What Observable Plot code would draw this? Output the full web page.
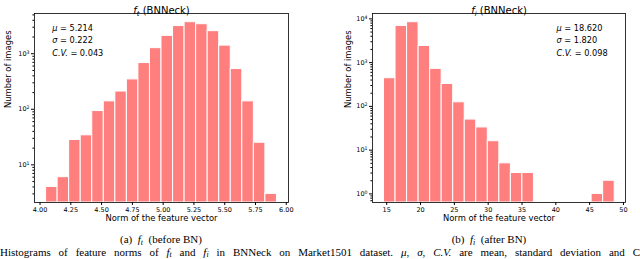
<!DOCTYPE html>
<html><head><meta charset="utf-8">
<script src="https://cdn.jsdelivr.net/npm/d3@7"></script>
<script src="https://cdn.jsdelivr.net/npm/@observablehq/plot@0.6"></script>
<style>
html,body{margin:0;padding:0;background:#fff;}
body{width:640px;height:259px;overflow:hidden;position:relative;}
.panel{position:absolute;top:0;}
.cap{position:absolute;font-family:"Liberation Serif",serif;font-size:11px;line-height:12px;text-align:center;width:320px;white-space:nowrap;color:#000;}
.cap i{font-style:italic;}
.cap sub{font-size:0.72em;vertical-align:-0.25em;line-height:0;}
.note{position:absolute;left:0;top:246px;width:640px;font-family:"Liberation Serif",serif;font-size:11px;line-height:12.5px;white-space:nowrap;text-align:justify;text-align-last:justify;color:#000;}
.note sub{font-size:0.72em;vertical-align:-0.15em;line-height:0;}
</style></head><body>
<div id="a" class="panel" style="left:0"></div>
<div id="b" class="panel" style="left:320px"></div>
<div class="cap" style="left:1px;top:233px">(a)&nbsp; <i>f<sub>t</sub></i>&nbsp; (before BN)</div>
<div class="cap" style="left:329px;top:233px">(b)&nbsp; <i>f<sub>i</sub></i>&nbsp; (after BN)</div>
<div class="note">Histograms of feature norms of <i>f<sub>t</sub></i> and <i>f<sub>i</sub></i> in BNNeck on Market1501 dataset. <i>μ</i>, <i>σ</i>, <i>C.V.</i> are mean, standard deviation and C</div>
<script>
// ---- data ----
const barColor = "#ff7f7f";

const leftTitle = "f_t (BNNeck)";
const leftCounts = [4, 6, 28, 34, 93, 139, 209, 345, 680, 1260, 2100, 3150, 3700, 3400, 2550, 1400, 530, 139, 25, 3];
const leftBinRange = [4.049, 5.924];
const leftXDomain = [3.955, 6.018];
const leftYDomain = [2.1, 5300];
const leftXTicks = [4.00, 4.25, 4.50, 4.75, 5.00, 5.25, 5.50, 5.75, 6.00];
const leftYTicks = [10, 100, 1000];
const leftStats = ["μ = 5.214", "σ = 0.222", "C.V. = 0.043"];

const rightTitle = "f_i (BNNeck)";
const rightCounts = [440, 6900, 8400, 2400, 720, 325, 124, 50, 33, 16, 5, 3, 3, 0, 0, 0, 0, 0, 1, 2];
const rightBinRange = [14.6, 48.7];
const rightXDomain = [12.9, 50.3];
const rightYDomain = [0.636, 13260];
const rightXTicks = [15, 20, 25, 30, 35, 40, 45, 50];
const rightYTicks = [1, 10, 100, 1000, 10000];
const rightStats = ["μ = 18.620", "σ = 1.820", "C.V. = 0.098"];

const xLabel = "Norm of the feature vector";
const yLabel = "Number of images";

function panel(o) {
  const n = o.counts.length, w = (o.binRange[1] - o.binRange[0]) / n;
  const bins = o.counts.map((c, i) => ({x1: o.binRange[0] + i * w, x2: o.binRange[0] + (i + 1) * w, c}))
    .filter(d => d.c > 0);
  const minor = d3.scaleLog().domain(o.yDomain).ticks()
    .filter(t => !o.yTicks.some(m => Math.abs(m - t) / m < 1e-9));
  const svg = Plot.plot({
    width: 320, height: 226,
    marginLeft: o.ml, marginRight: o.mr, marginTop: 13, marginBottom: 24,
    style: {fontFamily: "DejaVu Sans", fontSize: "6.5px", background: "white", color: "black", overflow: "visible"},
    x: {domain: o.xDomain},
    y: {type: "log", domain: o.yDomain},
    marks: [
      Plot.rectY(bins, {x1: "x1", x2: "x2", y1: o.yDomain[0], y2: "c", fill: barColor, stroke: "white", strokeWidth: 1, clip: true}),
      Plot.frame({stroke: "black", strokeWidth: 0.8}),
      Plot.axisX({ticks: o.xTicks, tickFormat: o.xFormat, tickSize: 3, tickPadding: 1.5, fontSize: 6.5, label: null}),
      Plot.axisY({ticks: o.yTicks, tickFormat: d => "10^" + Math.round(Math.log10(d)), tickSize: 3, tickPadding: 2, fontSize: 6.5, label: null}),
      Plot.axisY({ticks: minor, tickFormat: () => "", tickSize: 1.6, label: null}),
      Plot.text([o.title], {text: d => d, frameAnchor: "top", dy: -6.5, fontSize: 10}),
      Plot.text([xLabel], {text: d => d, frameAnchor: "bottom", dy: 18, fontSize: 8.4}),
      Plot.text([yLabel], {text: d => d, frameAnchor: "left", dx: o.yLabelDx, rotate: -90, fontSize: 8.4}),
      ...o.stats.map((s, i) => Plot.text([s], {text: d => d, frameAnchor: "top-left", dx: o.statsDx, dy: 11.3 + i * 12.5, textAnchor: "start", fontSize: 8.2}))
    ]
  });
  d3.select(svg).selectAll("text").each(function () {
    const t = this.textContent;
    let m;
    const sel = d3.select(this);
    if ((m = t.match(/^10\^(-?\d+)$/))) {
      this.textContent = "10";
      sel.append("tspan").attr("dy", "-0.45em").attr("font-size", "0.72em").text(m[1]);
    } else if ((m = t.match(/^(\w)_(\w)(.*)$/))) {
      this.textContent = "";
      sel.append("tspan").attr("font-style", "italic").text(m[1]);
      sel.append("tspan").attr("font-style", "italic").attr("font-size", "0.7em").attr("dy", "0.3em").text(m[2]);
      sel.append("tspan").attr("dy", "-0.21em").text(m[3]);
    } else if (t.includes(" = ")) {
      const [a, b] = t.split(" = ");
      this.textContent = "";
      sel.append("tspan").attr("font-style", "italic").text(a);
      sel.append("tspan").text(" = " + b);
    }
  });
  return svg;
}

document.getElementById("a").appendChild(panel({
  counts: leftCounts, binRange: leftBinRange, xDomain: leftXDomain, yDomain: leftYDomain,
  xTicks: leftXTicks, xFormat: d => d.toFixed(2), yTicks: leftYTicks, stats: leftStats,
  title: leftTitle, ml: 34, mr: 32, statsDx: 17.7, yLabelDx: -26
}));
document.getElementById("b").appendChild(panel({
  counts: rightCounts, binRange: rightBinRange, xDomain: rightXDomain, yDomain: rightYDomain,
  xTicks: rightXTicks, xFormat: d => String(d), yTicks: rightYTicks, stats: rightStats,
  title: rightTitle, ml: 52, mr: 15, statsDx: 184, yLabelDx: -24
}));
</script>
</body></html>
